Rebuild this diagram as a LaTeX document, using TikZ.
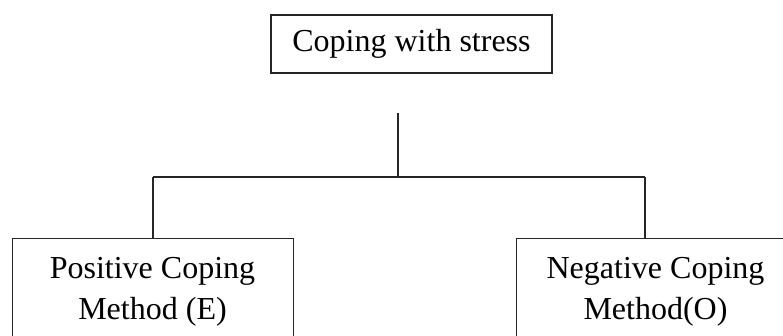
\documentclass[tikz,border=0pt]{standalone}
\usepackage{fontspec}
\setmainfont{Liberation Serif}
\begin{document}
\begin{tikzpicture}[x=1pt,y=-1pt,
  box/.style={draw=black!85,line width=1.4pt,inner sep=0pt},
  link/.style={draw=black!85,line width=1.4pt},
  label/.style={inner sep=0pt,align=center,font=\fontsize{32}{41}\selectfont}]
\useasboundingbox (0,0) rectangle (783,336);
\clip (0,0) rectangle (783,336);
% root box
\node[box,minimum width=281pt,minimum height=58pt,font=\fontsize{32}{35}\selectfont] (root) at (411.5,44) {Coping with stress};
% leaf boxes (they run past the lower and right edges)
\node[box,anchor=north west,minimum width=281pt,minimum height=140pt] (pbox) at (12,238) {};
\node[box,anchor=north west,minimum width=279pt,minimum height=140pt] (nbox) at (516,238) {};
\node[label,anchor=north] (ptext) at (152.5,257) {Positive Coping\\Method (E)};
\node[label,anchor=north] (ntext) at (655.5,257) {Negative Coping\\Method(O)};
% connectors
\coordinate (stemtop) at (398,113);
\coordinate (stembot) at (398,177);
\coordinate (lcorner) at (153,177);
\coordinate (rcorner) at (645,177);
\draw[link] (stemtop) -- (stembot);
\draw[link] (lcorner) -- (rcorner);
\draw[link] (lcorner) -- (lcorner |- pbox.north);
\draw[link] (rcorner) -- (rcorner |- nbox.north);
\end{tikzpicture}
\end{document}
